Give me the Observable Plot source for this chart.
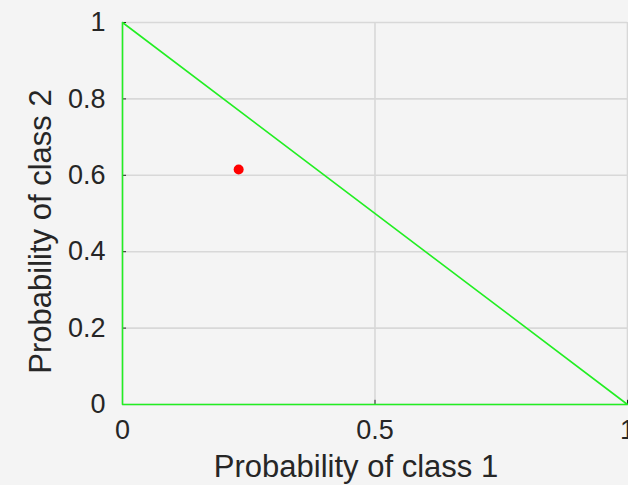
<!DOCTYPE html>
<html>
<head>
<meta charset="utf-8">
<script src="https://cdn.jsdelivr.net/npm/d3@7"></script>
<script src="https://cdn.jsdelivr.net/npm/@observablehq/plot@0.6"></script>
<style>
  html, body { margin: 0; padding: 0; overflow: hidden; background: #f4f4f4; }
  #chart svg { display: block; overflow: hidden; }
</style>
</head>
<body>
<div id="chart"></div>
<script>
// Probability simplex for two classes, with one sample's predicted probabilities.
const xTicks = [0, 0.5, 1];
const yTicks = [0, 0.2, 0.4, 0.6, 0.8, 1];
const xTickLabels = ["0", "0.5", "1"];
const yTickLabels = ["0", "0.2", "0.4", "0.6", "0.8", "1"];

// Outline of the feasible region p1 + p2 <= 1
const simplexX = [0, 1, 0, 0];
const simplexY = [0, 0, 1, 0];

// Predicted probabilities of the sample
const sampleP1 = [0.23];
const sampleP2 = [0.615];

const xLabel = "Probability of class 1";
const yLabel = "Probability of class 2";

const simplex = simplexX.map((x, i) => ({x, y: simplexY[i]}));
const samples = sampleP1.map((p1, i) => ({p1, p2: sampleP2[i]}));

const font = "'Liberation Sans', Arial, Helvetica, sans-serif";
const ink = "#262626";

const chart = Plot.plot({
  width: 628,
  height: 485,
  marginLeft: 122,
  marginRight: 1,
  marginTop: 22,
  marginBottom: 81,
  style: {background: "#f4f4f4", fontFamily: font, color: ink},
  x: {domain: [0, 1]},
  y: {domain: [0, 1]},
  marks: [
    Plot.gridY(yTicks, {stroke: "#d8d8d8", strokeOpacity: 1, strokeWidth: 1.6}),
    Plot.gridX(xTicks, {stroke: "#d8d8d8", strokeOpacity: 1, strokeWidth: 1.6}),
    // short inward tick marks
    Plot.ruleY(yTicks, {x1: 0, x2: 0.008, stroke: ink, strokeWidth: 1}),
    Plot.ruleX(xTicks, {y1: 0, y2: 0.011, stroke: ink, strokeWidth: 1}),
    Plot.axisY(yTicks, {
      tickSize: 0, tickPadding: 17, fontSize: 27, label: null,
      tickFormat: (d, i) => yTickLabels[i], fill: ink
    }),
    Plot.axisX(xTicks, {
      tickSize: 0, tickPadding: 15, fontSize: 27, label: null,
      tickFormat: (d, i) => xTickLabels[i], fill: ink
    }),
    Plot.line(simplex, {x: "x", y: "y", stroke: "#22ee22", strokeWidth: 1.6}),
    Plot.dot(samples, {x: "p1", y: "p2", r: 5, fill: "#ff0000", stroke: "none"}),
    Plot.text([xLabel], {
      frameAnchor: "bottom", textAnchor: "middle", lineAnchor: "middle",
      dx: -19, dy: 63, fontSize: 31, fill: ink, text: d => d
    }),
    Plot.text([yLabel], {
      frameAnchor: "left", textAnchor: "middle", lineAnchor: "middle", rotate: -90,
      dx: -81, dy: 18, fontSize: 31, fill: ink, text: d => d
    })
  ]
});

document.getElementById("chart").append(chart);
</script>
</body>
</html>
